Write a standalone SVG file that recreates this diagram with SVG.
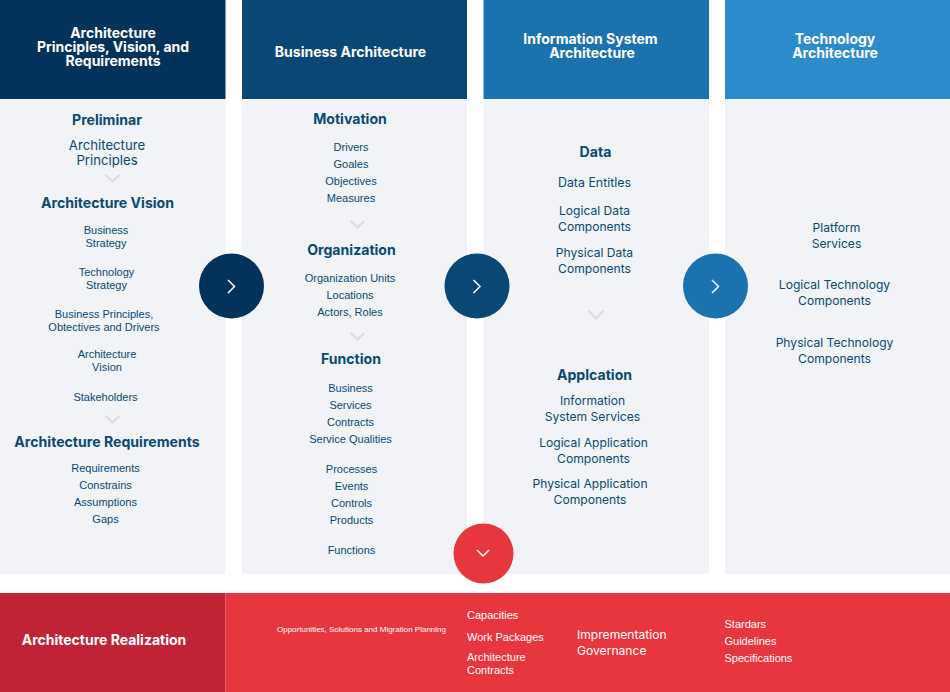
<svg xmlns="http://www.w3.org/2000/svg" width="950" height="692" viewBox="0 0 950 692">
<style>
text{font-family:Inter,"Liberation Sans",sans-serif;text-anchor:middle}
.hd{fill:#fff;font-size:14px;font-weight:700}
.t{fill:#0b4874;font-size:14.1px;font-weight:700}
.m{fill:#0b4874;font-size:12.1px;font-weight:400}
.s{fill:#0b4874;font-size:11px;font-family:"Liberation Sans",sans-serif}
.w{fill:#fff;font-size:11px;font-family:"Liberation Sans",sans-serif;text-anchor:start}
.chev{fill:none;stroke:#d9dbdf;stroke-width:2}
.arr{fill:none;stroke:#fff;stroke-width:1.5}
.bg{fill:#f1f3f7}
</style>
<g id="col1"><rect class="bg" x="0" y="99" width="225.500" height="475"/><rect x="0" y="0" width="225.500" height="99" fill="#03335a"/>
<text class="hd" x="113" y="37.500">Architecture</text><text class="hd" x="113" y="52">Principles, Vision, and</text><text class="hd" x="113" y="66">Requirements</text>
<text class="t" x="107" y="125">Preliminar</text>
<text class="m" x="107" y="150" style="font-size:13.2px">Architecture</text><text class="m" x="107" y="165" style="font-size:13.2px">Principles</text>
<path class="chev" d="M105.500 175l7 6.500 7-6.500"/>
<text class="t" x="107.500" y="208">Architecture Vision</text>
<text class="s" x="106" y="234">Business</text><text class="s" x="106" y="247">Strategy</text>
<text class="s" x="106.500" y="276">Technology</text><text class="s" x="106.500" y="289">Strategy</text>
<text class="s" x="104" y="318">Business Principles,</text><text class="s" x="104" y="331">Obtectives and Drivers</text>
<text class="s" x="107" y="358">Architecture</text><text class="s" x="107" y="371">Vision</text>
<text class="s" x="105.500" y="401">Stakeholders</text>
<path class="chev" d="M105.500 416l7 6.500 7-6.500"/>
<text class="t" x="107" y="447">Architecture Requirements</text>
<text class="s" x="105.500" y="472">Requirements</text><text class="s" x="105.500" y="489">Constrains</text><text class="s" x="105.500" y="506">Assumptions</text><text class="s" x="105.500" y="523">Gaps</text></g>
<g id="col2"><rect class="bg" x="242" y="99" width="225" height="475"/><rect x="242" y="0" width="225" height="99" fill="#0a4775"/>
<text class="hd" x="350.500" y="57">Business Architecture</text>
<text class="t" x="350" y="124">Motivation</text>
<text class="s" x="351" y="151">Drivers</text><text class="s" x="351" y="168">Goales</text><text class="s" x="351" y="185">Objectives</text><text class="s" x="351" y="202">Measures</text>
<path class="chev" d="M350.500 221l7 6.500 7-6.500"/>
<text class="t" x="351.500" y="255">Organization</text>
<text class="s" x="350" y="282">Organization Units</text><text class="s" x="350" y="299">Locations</text><text class="s" x="350" y="316">Actors, Roles</text>
<path class="chev" d="M350.500 333l7 6.500 7-6.500"/>
<text class="t" x="351" y="364">Function</text>
<text class="s" x="350.500" y="392">Business</text><text class="s" x="350.500" y="409">Services</text><text class="s" x="350.500" y="426">Contracts</text><text class="s" x="350.500" y="443">Service Qualities</text>
<text class="s" x="351.500" y="473">Processes</text><text class="s" x="351.500" y="490">Events</text><text class="s" x="351.500" y="507">Controls</text><text class="s" x="351.500" y="524">Products</text>
<text class="s" x="351.500" y="554">Functions</text></g>
<g id="col3"><rect class="bg" x="483.500" y="99" width="225.500" height="475"/><rect x="483.500" y="0" width="225.500" height="99" fill="#1c72ae"/>
<text class="hd" x="590.500" y="44">Information System</text><text class="hd" x="592" y="58">Architecture</text>
<text class="t" x="595.500" y="157">Data</text>
<text class="m" x="594.500" y="187" style="font-size:12.4px">Data Entitles</text>
<text class="m" x="594.500" y="215">Logical Data</text><text class="m" x="594.500" y="231">Components</text>
<text class="m" x="594.500" y="257">Physical Data</text><text class="m" x="594.500" y="273">Components</text>
<path class="chev" d="M588.500 311l7.500 7.500 7.500-7.500"/>
<text class="t" x="594.500" y="380">Applcation</text>
<text class="m" x="592.500" y="405">Information</text><text class="m" x="592.500" y="421">System Services</text>
<text class="m" x="593.500" y="447">Logical Application</text><text class="m" x="593.500" y="463">Components</text>
<text class="m" x="590" y="488">Physical Application</text><text class="m" x="590" y="504">Components</text></g>
<g id="col4"><rect class="bg" x="725" y="99" width="225" height="475"/><rect x="725" y="0" width="225" height="99" fill="#2c8bcb"/>
<text class="hd" x="835" y="44">Technology</text><text class="hd" x="835" y="58">Architecture</text>
<text class="m" x="836.500" y="232">Platform</text><text class="m" x="836.500" y="248">Services</text>
<text class="m" x="834.500" y="289">Logical Technology</text><text class="m" x="834.500" y="305">Components</text>
<text class="m" x="834.500" y="347">Physical Technology</text><text class="m" x="834.500" y="363">Components</text></g>
<g id="realization"><rect x="0" y="593" width="225.500" height="99" fill="#c02335"/><rect x="225.500" y="593" width="724.500" height="99" fill="#e8363e"/>
<text x="104" y="645" fill="#fff" font-size="14px" font-weight="700">Architecture Realization</text>
<text class="w" x="277" y="632" style="font-size:8px">Opportunities, Solutions and Migration Planning</text>
<text class="w" x="467" y="619">Capacities</text><text class="w" x="467" y="641">Work Packages</text><text class="w" x="467" y="661">Architecture</text><text class="w" x="467" y="674">Contracts</text>
<text class="w" x="577" y="639" style="font-family:Inter,sans-serif;font-size:12.1px">Imprementation</text><text class="w" x="577" y="655" style="font-family:Inter,sans-serif;font-size:12.1px">Governance</text>
<text class="w" x="724.500" y="628">Stardars</text><text class="w" x="724.500" y="645">Guidelines</text><text class="w" x="724.500" y="662">Specifications</text></g>
<g id="connectors">
<circle cx="231.500" cy="286" r="32.500" fill="#03335a"/><path class="arr" d="M228 280l6.500 6.500-6.500 6.500"/>
<circle cx="477" cy="286" r="32.500" fill="#0a4775"/><path class="arr" d="M473.500 280l6.500 6.500-6.500 6.500"/>
<circle cx="715.500" cy="286" r="32.500" fill="#1c72ae"/><path class="arr" d="M712 280l6.500 6.500-6.500 6.500"/>
<circle cx="483.500" cy="553.500" r="30" fill="#e8363e"/><path class="arr" d="M477 550l6 6 6-6"/>
</g>
</svg>
